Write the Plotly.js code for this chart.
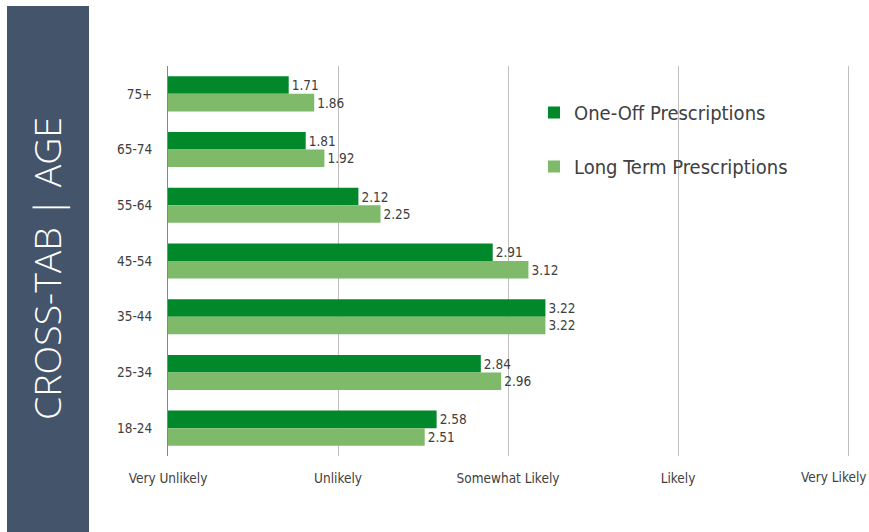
<!DOCTYPE html>
<html>
<head>
<meta charset="utf-8">
<script src="https://cdn.plot.ly/plotly-3.0.1.min.js"></script>
<style>html,body{margin:0;padding:0;background:#fff;}#chart{width:869px;height:532px;}</style>
</head>
<body>
<div id="chart"></div>
<script>
const ageGroups = ['75+', '65-74', '55-64', '45-54', '35-44', '25-34', '18-24'];
const oneOff = [1.71, 1.81, 2.12, 2.91, 3.22, 2.84, 2.58];
const longTerm = [1.86, 1.92, 2.25, 3.12, 3.22, 2.96, 2.51];
const scaleValues = [1, 2, 3, 4, 5];
const scaleLabels = ['Very Unlikely', 'Unlikely', 'Somewhat Likely', 'Likely', 'Very Likely'];
const sideTitle = 'CROSS-TAB | AGE';

const fam = 'Tahoma, "DejaVu Sans Condensed", "DejaVu Sans", sans-serif';
const labelFont = {family: fam, size: 13.5, color: '#404040'};

const traces = [
  {
    type: 'bar', orientation: 'h', name: 'One-Off Prescriptions',
    y: ageGroups, x: oneOff,
    marker: {color: '#00882b'},
    text: oneOff.map(v => v.toFixed(2)), textposition: 'outside',
    textfont: labelFont, cliponaxis: false, legendgroup: 'a',
    hoverinfo: 'x+y+name'
  },
  {
    type: 'bar', orientation: 'h', name: 'Long Term Prescriptions',
    y: ageGroups, x: longTerm,
    marker: {color: '#7fba6b'},
    text: longTerm.map(v => v.toFixed(2)), textposition: 'outside',
    textfont: labelFont, cliponaxis: false, legendgroup: 'b',
    hoverinfo: 'x+y+name'
  }
];

// last scale label is shifted left to stay inside the page (as in the reference)
const tickTextShown = scaleLabels.map((t, i) => i === scaleLabels.length - 1 ? '' : t);

const PW = 869 - 168 - 15; // plot width in px
const layout = {
  width: 869, height: 532,
  margin: {l: 168, r: 15, t: 66, b: 76},
  paper_bgcolor: '#ffffff', plot_bgcolor: '#ffffff',
  barmode: 'group', bargap: 0.37, bargroupgap: 0,
  showlegend: true,
  legend: {
    x: (534 - 168) / PW, y: (456 - 93) / 390, xanchor: 'left', yanchor: 'top',
    font: {family: fam, size: 20, color: '#404040'},
    tracegroupgap: 25, traceorder: 'grouped', bgcolor: 'rgba(0,0,0,0)',
    itemwidth: 30
  },
  xaxis: {
    range: [1, 5.035], tickvals: scaleValues, ticktext: tickTextShown,
    showgrid: true, gridcolor: '#bfbfbf', gridwidth: 1,
    zeroline: false, showline: false, ticks: '',
    tickfont: labelFont, ticklabelstandoff: 12,
    fixedrange: true
  },
  yaxis: {
    type: 'category', categoryorder: 'array', categoryarray: ageGroups,
    autorange: 'reversed', showgrid: false, zeroline: false,
    showline: true, linecolor: '#868686', linewidth: 1,
    ticks: '', tickfont: labelFont, ticklabelstandoff: 12, fixedrange: true
  },
  shapes: [
    {type: 'rect', xref: 'paper', yref: 'paper', layer: 'below',
     x0: -161/PW, x1: -79/PW, y0: -80/390, y1: 450/390,
     fillcolor: '#44546a', line: {width: 0}}
  ],
  annotations: [
    {xref: 'paper', yref: 'paper', x: -122/PW, y: (456 - 269) / 390,
     text: sideTitle, showarrow: false, textangle: -90,
     xanchor: 'center', yanchor: 'middle',
     font: {family: '"Open Sans", sans-serif', size: 37.5, weight: 300, color: '#ffffff'}},
    {xref: 'x', yref: 'paper', x: scaleValues[4], y: -21/390, xshift: -14,
     text: scaleLabels[4], showarrow: false, xanchor: 'center', yanchor: 'middle',
     font: labelFont}
  ]
};

Plotly.newPlot('chart', traces, layout, {displayModeBar: false, staticPlot: true});
</script>
</body>
</html>
